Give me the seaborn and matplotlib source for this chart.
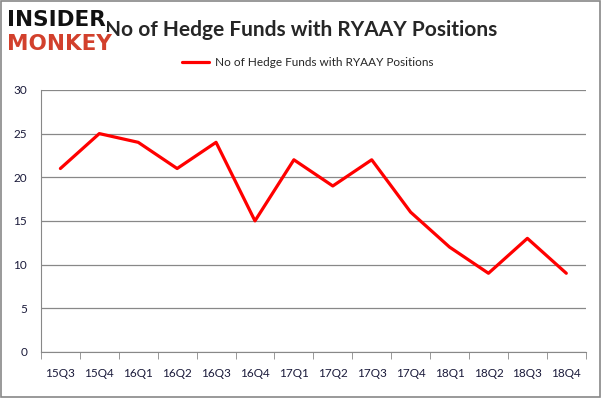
import matplotlib
matplotlib.use('Agg')
import matplotlib.pyplot as plt
import seaborn as sns
import pandas as pd

quarters = ['15Q3', '15Q4', '16Q1', '16Q2', '16Q3', '16Q4', '17Q1',
            '17Q2', '17Q3', '17Q4', '18Q1', '18Q2', '18Q3', '18Q4']
funds = [21, 25, 24, 21, 24, 15, 22, 19, 22, 16, 12, 9, 13, 9]
series_name = 'No of Hedge Funds with RYAAY Positions'

df = pd.DataFrame({'quarter': quarters, 'funds': funds})
df['pos'] = range(len(df))

sns.set_style('white')
plt.rcParams['font.family'] = ['Lato', 'DejaVu Sans']

fig = plt.figure(figsize=(6.02, 3.98), dpi=100)
ax = fig.add_axes([0.068, 0.116, 0.905, 0.658])

sns.lineplot(data=df, x='pos', y='funds', ax=ax, color='#ff0000',
             linewidth=2.3, label=series_name)

ax.set_xlim(-0.5, len(quarters) - 0.5)
ax.set_ylim(0, 30)
ax.set_yticks(range(0, 31, 5))
ax.set_xticks(range(len(quarters)))
ax.set_xticklabels(quarters)
ax.set_xlabel('')
ax.set_ylabel('')
ax.grid(axis='y', color='#888888', linewidth=0.9)
ax.set_axisbelow(True)
for s in ['top', 'right']:
    ax.spines[s].set_visible(False)
ax.spines['left'].set_color('#888888')
ax.spines['bottom'].set_color('#888888')

# tick marks at category boundaries
ax.set_xticks([i - 0.5 for i in range(len(quarters) + 1)], minor=True)
ax.tick_params(axis='x', which='major', length=0, pad=12, labelsize=8.5, labelcolor='#1a1a3a')
ax.tick_params(axis='x', which='minor', length=5, color='#888888', direction='out', bottom=True)
ax.tick_params(axis='y', length=0, pad=10, labelsize=8.5, labelcolor='#1a1a3a')

ax.legend(loc='center', bbox_to_anchor=(0.49, 1.106), frameon=False,
          fontsize=8.5, handlelength=2.3, handletextpad=0.5)

fig.text(0.5, 0.925, series_name, ha='center', va='center',
         fontsize=15, fontweight='bold')

# logo
fig.text(0.012, 0.95, 'INSIDER', ha='left', va='center', fontsize=15.5,
         fontweight='bold', color='#111111', family='DejaVu Sans',
         bbox=dict(facecolor='white', edgecolor='none', pad=1))
fig.text(0.012, 0.89, 'MONKEY', ha='left', va='center', fontsize=15.5,
         fontweight='bold', color='#d2402c', family='DejaVu Sans',
         bbox=dict(facecolor='white', edgecolor='none', pad=1))

# outer border
fig.patches.append(plt.Rectangle((0.002, 0.003), 0.995, 0.994, transform=fig.transFigure,
                                 fill=False, edgecolor='#888888', linewidth=1.2))

fig.savefig('out.png', dpi=100)
